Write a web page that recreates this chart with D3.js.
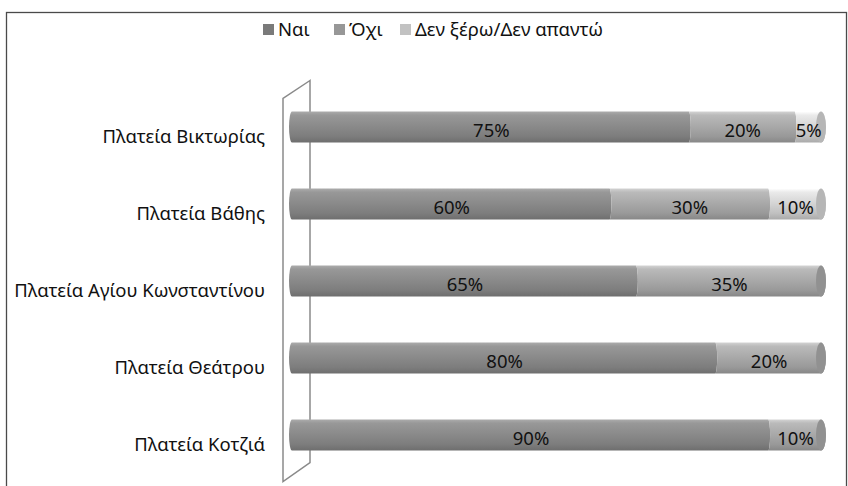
<!DOCTYPE html>
<html>
<head>
<meta charset="utf-8">
<script src="https://cdn.jsdelivr.net/npm/d3@7"></script>
<style>
  html, body { margin: 0; padding: 0; background: #fff; }
  svg { display: block; }
  text { font-family: "Noto Sans", "Open Sans", sans-serif; }
</style>
</head>
<body>
<div id="chart"></div>
<script>
// ---- data ----
const categories = ["Πλατεία Βικτωρίας", "Πλατεία Βάθης", "Πλατεία Αγίου Κωνσταντίνου", "Πλατεία Θεάτρου", "Πλατεία Κοτζιά"];
const seriesNames = ["Ναι", "Όχι", "Δεν ξέρω/Δεν απαντώ"];
const yesValues = [75, 60, 65, 80, 90];
const noValues = [20, 30, 35, 20, 10];
const dkValues = [5, 10, 0, 0, 0];

const W = 848, H = 486;
const svg = d3.select("#chart").append("svg").attr("width", W).attr("height", H);

const seriesColors = ["#8b8b8b", "#aaaaaa", "#d6d6d6"];
const legendColors = ["#7a7a7a", "#979797", "#c2c2c2"];
const FS = 18.5;

// gradients
const defs = svg.append("defs");
function shade(c, k) { return d3.color(c).brighter(k).formatHex(); }
seriesColors.forEach((c, i) => {
  const g = defs.append("linearGradient").attr("id", "g" + i)
    .attr("x1", 0).attr("y1", 0).attr("x2", 0).attr("y2", 1);
  g.append("stop").attr("offset", "0%").attr("stop-color", shade(c, 0.6));
  g.append("stop").attr("offset", "12%").attr("stop-color", shade(c, 0.25));
  g.append("stop").attr("offset", "45%").attr("stop-color", c);
  g.append("stop").attr("offset", "80%").attr("stop-color", shade(c, -0.3));
  g.append("stop").attr("offset", "100%").attr("stop-color", shade(c, -0.65));
});

// outer frame
svg.append("rect").attr("x", 6.5).attr("y", 12.5).attr("width", 840).attr("height", 500)
  .attr("fill", "none").attr("stroke", "#4a4a4a").attr("stroke-width", 1.3);

// scales
const x = d3.scaleLinear().domain([0, 100]).range([292, 821]);
const y = d3.scalePoint().domain(categories).range([88.5, 473.5]).padding(0.5);
const barH = 31, rxEnd = 5, rxLeft = 3, rxMid = 2;

// back wall (3D)
const wx1 = 310, wx0 = 283;
const wallTop = y.range()[0] - 8, wallBot = y.range()[1] - 11;
svg.append("path")
  .attr("d", `M${wx1},${wallTop} L${wx0},${wallTop + 18} L${wx0},${wallBot + 19} L${wx1},${wallBot} Z M${wx1},${wallTop} L${wx1},${wallBot}`)
  .attr("fill", "#fff").attr("stroke", "#8a8a8a").attr("stroke-width", 1.5);

// stacked data
const rows = categories.map((c, i) => {
  const vals = [yesValues[i], noValues[i], dkValues[i]];
  let acc = 0;
  const segs = vals.map((v, k) => { const s = { k, v, x0: acc, x1: acc + v }; acc += v; return s; })
    .filter(s => s.v > 0);
  return { cat: c, segs };
});

const rowG = svg.selectAll("g.row").data(rows).join("g").attr("class", "row")
  .attr("transform", d => `translate(0,${y(d.cat)})`);

rowG.each(function (row) {
  const g = d3.select(this);
  const t = -barH / 2, b = barH / 2, ry = barH / 2;
  const n = row.segs.length;
  row.segs.forEach((s, j) => {
    const xa = x(s.x0), xb = x(s.x1);
    const first = j === 0, last = j === n - 1;
    const rR = last ? rxEnd : rxMid;
    const rL = first ? rxLeft : rxMid;
    const d = `M${xa},${t} L${xb},${t} A${rR},${ry} 0 0 1 ${xb},${b} L${xa},${b} A${rL},${ry} 0 0 ${first ? 1 : 0} ${xa},${t} Z`;
    g.append("path").attr("d", d).attr("fill", `url(#g${s.k})`);
  });
  const lastSeg = row.segs[n - 1];
  g.append("ellipse").attr("cx", x(lastSeg.x1)).attr("cy", 0).attr("rx", rxEnd).attr("ry", ry)
    .attr("fill", shade(seriesColors[lastSeg.k], -0.45));
  row.segs.forEach(s => {
    g.append("text").attr("x", (x(s.x0) + x(s.x1)) / 2 + 1).attr("y", 10)
      .attr("text-anchor", "middle").attr("font-size", FS).attr("fill", "#111")
      .text(s.v + "%");
  });
  g.append("text").attr("x", 265).attr("y", 16).attr("text-anchor", "end")
    .attr("font-size", FS).attr("fill", "#111").text(row.cat);
});

// legend
const legX = [263, 334, 400];
const leg = svg.selectAll("g.leg").data(seriesNames).join("g").attr("class", "leg")
  .attr("transform", (d, i) => `translate(${legX[i]},24)`);
leg.append("rect").attr("width", 11).attr("height", 11).attr("fill", (d, i) => legendColors[i]);
leg.append("text").attr("x", 15).attr("y", 12).attr("font-size", FS).attr("fill", "#111").text(d => d);
</script>
</body>
</html>
